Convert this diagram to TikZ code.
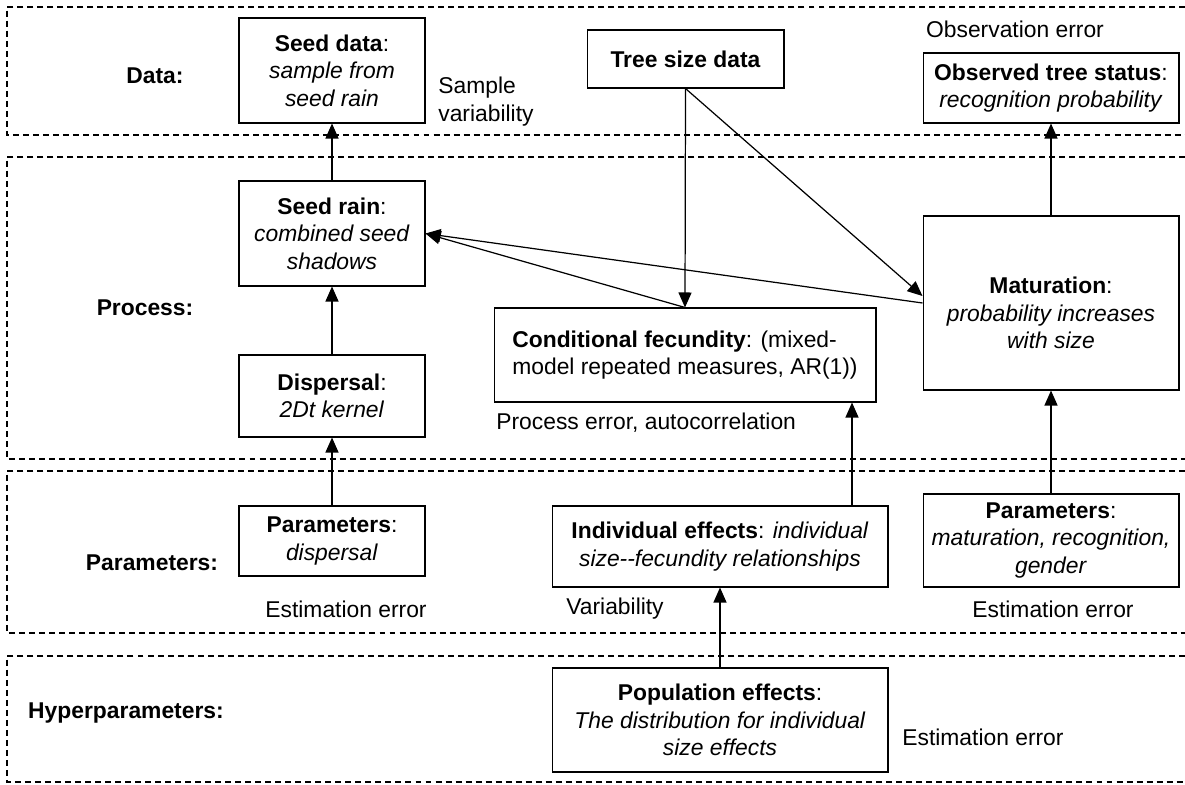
\documentclass[tikz,border=0pt]{standalone}
\usepackage{fontspec}
\setmainfont{Liberation Sans}
\usetikzlibrary{arrows.meta}
\newcommand{\figfont}{\fontsize{13}{15.6}\selectfont}
\tikzset{
  every node/.style={font=\figfont},
  box/.style={draw, line width=0.6pt, align=center, inner sep=0pt},
  arr/.style={line width=0.7pt, -{Triangle[length=0.3cm,width=0.26cm]}},
  band/.style={line width=0.6pt, dash pattern=on 3.4pt off 2.3pt},
  lbl/.style={font=\figfont\bfseries, inner sep=0pt},
  note/.style={inner sep=0pt, align=left},
}
\begin{document}
\begin{tikzpicture}[x=0.02cm, y=-0.02cm]
            \useasboundingbox (0,0) rectangle (1185,784);

            % levels
            \draw[band] (1185,7) -- (7,7) -- (7,135) -- (1185,135);
            \draw[band] (1185,157) -- (7,157) -- (7,459) -- (1185,459);
            \draw[band] (1185,471) -- (7,471) -- (7,633) -- (1185,633);
            \draw[band] (1185,656) -- (7,656) -- (7,782) -- (1185,782);

            \node[lbl] (datalbl) at (155,76) {Data:};
            \node[lbl] (proclbl) at (145,308) {Process:};
            \node[lbl] (parlbl) at (152,563) {Parameters:};
            \node[lbl] (hyplbl) at (126,713) {Hyperparameters:};

            % data
            \node[box, minimum width=3.72cm, minimum height=2.1cm] (seeddata) at (332,70.5) {\textbf{Seed data}:\\\textit{sample from}\\\textit{seed rain}};
            \node[box, minimum width=3.94cm, minimum height=1.16cm] (treesize) at (685.5,59) {\textbf{Tree size data}};
            \node[box, minimum width=5.12cm, minimum height=1.4cm] (obs) at (1051,88) {\textbf{Observed tree status}:\\\textit{recognition probability}};
            \node[note, anchor=west] (samplevar) at (438,101.5) {Sample\\variability};
            \node[note] (obserr) at (1015,29) {Observation error};

            % process
            \node[box, minimum width=3.72cm, minimum height=2.1cm] (seedrain) at (332,233.5) {\textbf{Seed rain}:\\\textit{combined seed}\\\textit{shadows}};
            \node[box, minimum width=3.72cm, minimum height=1.64cm] (disp) at (332,396) {\textbf{Dispersal}:\\\textit{2Dt kernel}};
            \node[box, align=left, minimum width=7.64cm, minimum height=1.88cm] (condfec) at (685,355) {\textbf{Conditional fecundity}: (mixed-\\model repeated measures, AR(1))};
            \node[box, minimum width=5.12cm, minimum height=3.48cm] (mat) at (1051,303) {};
            \node[note, align=center] (mattxt) at ([yshift=-0.2cm]mat.center) {\textbf{Maturation}:\\\textit{probability increases}\\\textit{with size}};
            \node[note, anchor=west] (procerr) at (496,423) {Process error, autocorrelation};

            % parameters
            \node[box, minimum width=3.72cm, minimum height=1.4cm] (parsdisp) at (332,541) {\textbf{Parameters}:\\\textit{dispersal}};
            \node[box, minimum width=6.72cm, minimum height=1.62cm] (indiv) at (720,546.5) {\textbf{Individual effects}: \textit{individual}\\\textit{size-{}-fecundity relationships}};
            \node[box, minimum width=5.12cm, minimum height=1.86cm] (parsmat) at (1051,540.5) {\textbf{Parameters}:\\\textit{maturation, recognition,}\\\textit{gender}};
            \node[note] (esterr1) at (346,609) {Estimation error};
            \node[note, anchor=west] (varb) at (566,609) {Variability};
            \node[note] (esterr2) at (1053,609) {Estimation error};

            % hyperparameters
            \node[box, minimum width=6.72cm, minimum height=2.08cm] (pop) at (720,720) {\textbf{Population effects}:\\\textit{The distribution for individual}\\\textit{size effects}};
            \node[note, anchor=west] (esterr3) at (902,737) {Estimation error};

            % links
            \draw[arr] (seedrain.north) -- (seeddata.south);
            \draw[arr] (disp.north) -- (seedrain.south);
            \draw[arr] (parsdisp.north) -- (disp.south);
            \draw[arr] (treesize.south) -- (condfec.north);
            \draw[arr] (treesize.south) -- ([yshift=0.14cm]mat.west);
            \draw[arr] (condfec.north) -- (seedrain.east);
            \draw[arr] (mat.west) -- (seedrain.east);
            \draw[arr] (mat.north) -- (obs.south);
            \draw[arr] (parsmat.north) -- (mat.south);
            \coordinate (fecin) at (852,402);
            \draw[arr] (fecin |- indiv.north) -- (fecin |- condfec.south);
            \draw[arr] (pop.north) -- (indiv.south);
\end{tikzpicture}
\end{document}
